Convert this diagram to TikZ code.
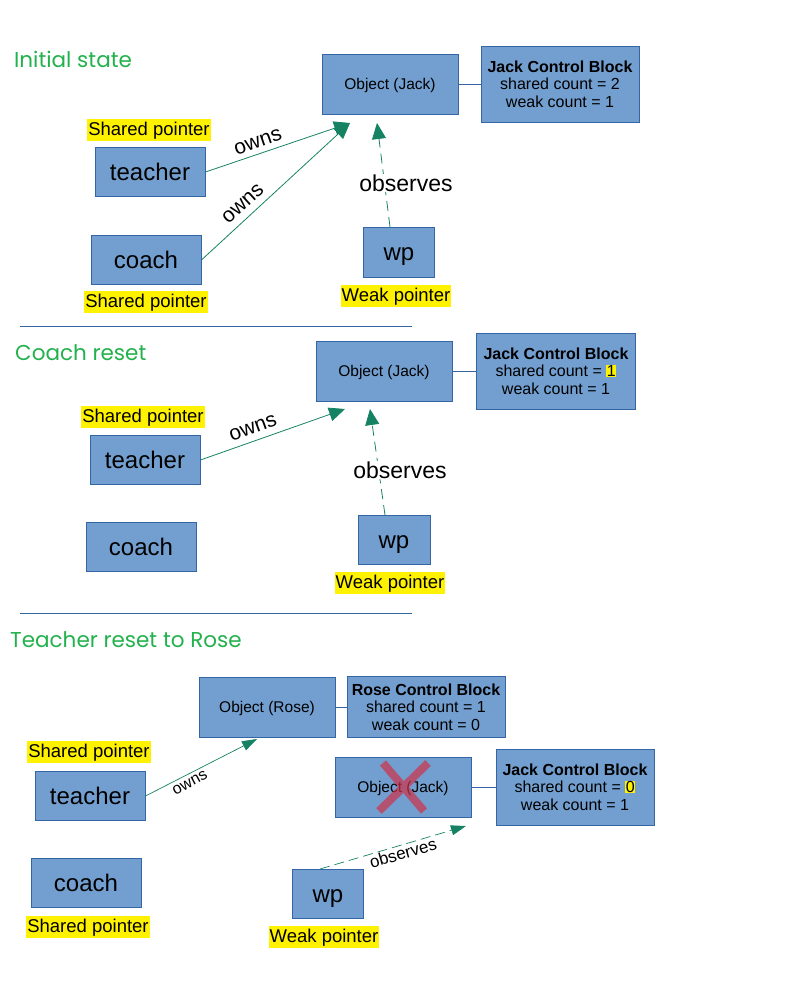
\documentclass[tikz,border=0pt]{standalone}
\usepackage{fontspec}
\setmainfont{Liberation Sans}
\newfontfamily\titlefont{Poppins}
\usetikzlibrary{arrows.meta}
\definecolor{boxfill}{HTML}{729FCF}
\definecolor{boxline}{HTML}{3465A4}
\definecolor{arr}{HTML}{168264}
\definecolor{ttl}{HTML}{22B14C}
\definecolor{xred}{HTML}{D0304A}
\newcommand\hlt[1]{{\setlength{\fboxsep}{0.6pt}\colorbox{yellow}{#1}}}
\newcommand\fs[1]{\fontsize{#1}{#1}\selectfont}
\begin{document}
\begin{tikzpicture}[x=1pt,y=-1pt,
  blk/.style={draw=boxline,fill=boxfill,line width=0.9pt,inner sep=0pt,align=center},
  big/.style={blk,text height=21.7pt,text depth=5.1pt,font=\fs{24}},
  obj/.style={blk,text height=14pt,text depth=3.3pt,minimum width=136,minimum height=60,font=\fs{15.5}},
  cb/.style={blk,font=\fontsize{16}{17.5}\selectfont,minimum height=76},
  tag/.style={fill=yellow,text height=15.5pt,text depth=3.9pt,inner sep=1pt,font=\fs{18.5}},
  ttlstyle/.style={text=ttl,font=\titlefont\fs{21.5},inner sep=0pt,anchor=west},
  lbl/.style={fill=white,inner sep=1pt,font=\fs{#1}},
  own/.style={draw=arr,line width=0.8pt,-{Triangle[length=16pt,width=14pt]}},
  obs/.style={own,dash pattern=on 10pt off 6pt},
  owns/.style={draw=arr,line width=0.7pt,-{Triangle[length=15pt,width=10pt]}},
  obss/.style={owns,dash pattern=on 10pt off 5pt},
  sep/.style={draw=boxline,line width=0.9pt},
  link/.style={draw=boxline,line width=0.9pt}
]
\useasboundingbox (0,0) rectangle (800,1000);

% ---------- Section 1 ----------
\node[ttlstyle] (title1) at (14,59) {Initial state};
\node[obj] (obj1) at (390,84) {Object (Jack)};
\node[cb,minimum width=158] (cb1) at (560,84) {\textbf{Jack Control Block}\\shared count = 2\\weak count = 1};
\draw[link] (obj1.east) -- (cb1.west);
\node[big,minimum width=110,minimum height=49] (t1) at (150,172) {teacher};
\node[tag] (sp1a) at (149,130) {Shared pointer};
\node[big,minimum width=110,minimum height=49] (c1) at (146,260) {coach};
\node[tag] (sp1b) at (146,302) {Shared pointer};
\node[big,minimum width=71,minimum height=50] (w1) at (399,252) {wp};
\node[tag] (wk1) at (396,296) {Weak pointer};
\coordinate (tip1) at (350,123);
\coordinate (otip1) at (377,123);
\coordinate (wbase1) at (390,227);
\draw[own] (t1.east) -- (tip1);
\draw[own] (c1.east) -- (tip1);
\draw[obs] (wbase1) -- (otip1);
\node[font=\fs{21},rotate=19,inner sep=0pt] (ow1a) at (258,142) {owns};
\node[font=\fs{21},rotate=42,inner sep=0pt] (ow1b) at (243,204) {owns};
\node[lbl=23] (ob1) at (406,183) {observes};
\coordinate (s1a) at (20,326);
\coordinate (s1b) at (412,326);
\draw[sep] (s1a) -- (s1b);

% ---------- Section 2 ----------
\node[ttlstyle] (title2) at (15,353) {Coach reset};
\node[obj] (obj2) at (384,371) {Object (Jack)};
\node[cb,minimum width=159] (cb2) at (556,371) {\textbf{Jack Control Block}\\shared count = \hlt{1}\\weak count = 1};
\draw[link] (obj2.east) -- (cb2.west);
\node[big,minimum width=110,minimum height=49] (t2) at (145,460) {teacher};
\node[tag] (sp2a) at (143,417) {Shared pointer};
\node[big,minimum width=110,minimum height=49] (c2) at (141,547) {coach};
\node[big,minimum width=72,minimum height=49] (w2) at (394,540) {wp};
\node[tag] (wk2) at (390,583) {Weak pointer};
\coordinate (tip2) at (345,409);
\coordinate (otip2) at (370,409);
\coordinate (wbase2) at (385,515);
\draw[own] (t2.east) -- (tip2);
\draw[obs] (wbase2) -- (otip2);
\node[lbl=21,rotate=20] (ow2) at (253,428) {owns};
\node[lbl=23] (ob2) at (400,470) {observes};
\coordinate (s2a) at (20,613);
\coordinate (s2b) at (412,613);
\draw[sep] (s2a) -- (s2b);

% ---------- Section 3 ----------
\node[ttlstyle] (title3) at (10,640) {Teacher reset to Rose};
\node[obj] (objr) at (267,707) {Object (Rose)};
\node[cb,minimum width=158,minimum height=61] (cbr) at (426,707) {\textbf{Rose Control Block}\\shared count = 1\\weak count = 0};
\draw[link] (objr.east) -- (cbr.west);
\node[obj] (obj3) at (403,787) {Object (Jack)};
\node[cb,minimum width=158] (cb3) at (575,787) {\textbf{Jack Control Block}\\shared count = \hlt{0}\\weak count = 1};
\draw[link] (obj3.east) -- (cb3.west);
\coordinate (xa) at (383,763);
\coordinate (xb) at (424,811);
\coordinate (xc) at (428,763);
\coordinate (xd) at (379,811);
\draw[xred,opacity=0.7,line width=8pt] (xa) -- (xb) (xc) -- (xd);
\node[tag] (sp3a) at (89,752) {Shared pointer};
\node[big,minimum width=110,minimum height=49] (t3) at (90,796) {teacher};
\node[big,minimum width=110,minimum height=49] (c3) at (86,883) {coach};
\node[tag] (sp3b) at (88,927) {Shared pointer};
\node[big,minimum width=71,minimum height=49] (w3) at (328,894) {wp};
\node[tag] (wk3) at (324,937) {Weak pointer};
\coordinate (tip3) at (257,739);
\coordinate (otip3) at (466,826);
\coordinate (wbase3) at (320,869);
\draw[owns] (t3.east) -- (tip3);
\draw[obss] (wbase3) -- (otip3);
\node[font=\fs{16},rotate=28,inner sep=0pt] (ow3) at (190,783) {owns};
\node[font=\fs{17},rotate=16,inner sep=0pt] (ob3) at (403,853) {observes};
\end{tikzpicture}
\end{document}
